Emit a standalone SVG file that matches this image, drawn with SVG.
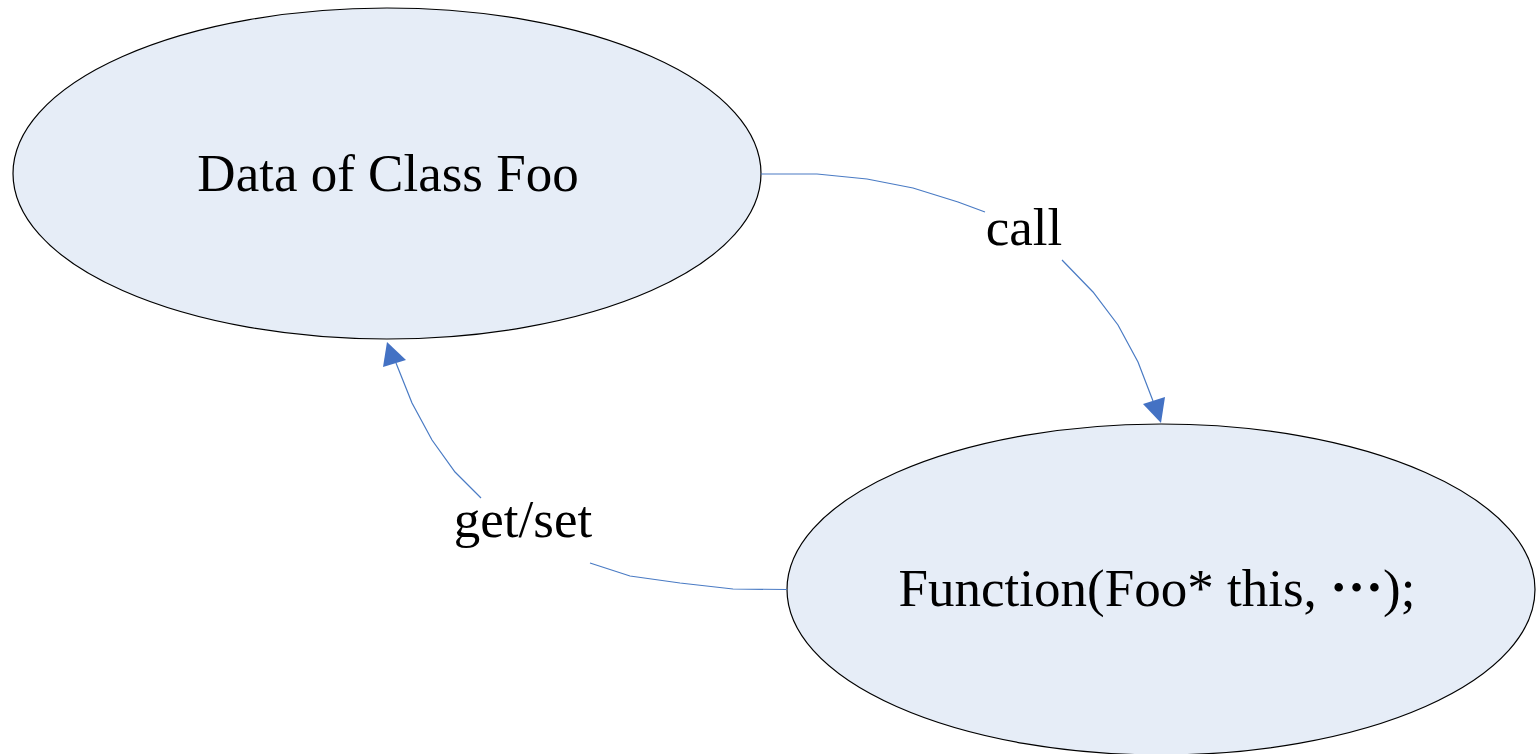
<svg xmlns="http://www.w3.org/2000/svg" width="1538" height="754" viewBox="0 0 1538 754">
  <style>
    .node { fill: #e6edf7; stroke: #000000; stroke-width: 1.2; }
    .label { font-family: "Liberation Serif", "Times New Roman", serif; font-size: 53px; fill: #000000; }
    .edge { fill: none; stroke: #4a7bc4; stroke-width: 1.2; }
    .head { fill: #4472c4; stroke: none; }
  </style>
  <rect width="1538" height="754" fill="#ffffff"/>
  <g id="node-data">
    <ellipse class="node" cx="387" cy="173.5" rx="374" ry="165.5"/>
    <text class="label" x="388" y="191" text-anchor="middle">Data of Class Foo</text>
  </g>
  <g id="node-function">
    <ellipse class="node" cx="1161" cy="589.5" rx="374" ry="165.5"/>
    <text class="label" x="1157" y="606" text-anchor="middle">Function(Foo* this, <tspan dy="-15" font-weight="bold">…</tspan><tspan dy="15">);</tspan></text>
  </g>
  <g id="connectors">
    <g id="edge-call">
      <path class="edge" d="M761,174 L817,174 L867,179 L913,188 L958,202 L985,212"/>
      <path class="edge" d="M1062,260 L1093,292 L1118,325 L1138,362 L1153,401"/>
      <polygon class="head" points="1143,404 1165,397 1161,423"/>
      <text class="label" x="1024" y="245" text-anchor="middle">call</text>
    </g>
    <g id="edge-getset">
      <path class="edge" d="M787,589.5 L733,589 L680,583 L630,576 L590,563"/>
      <path class="edge" d="M481,498 L455,472 L432,440 L412,403 L396,363"/>
      <polygon class="head" points="383,367 406,360 387,342"/>
      <text class="label" x="523" y="537" text-anchor="middle">get/set</text>
    </g>
  </g>
</svg>
